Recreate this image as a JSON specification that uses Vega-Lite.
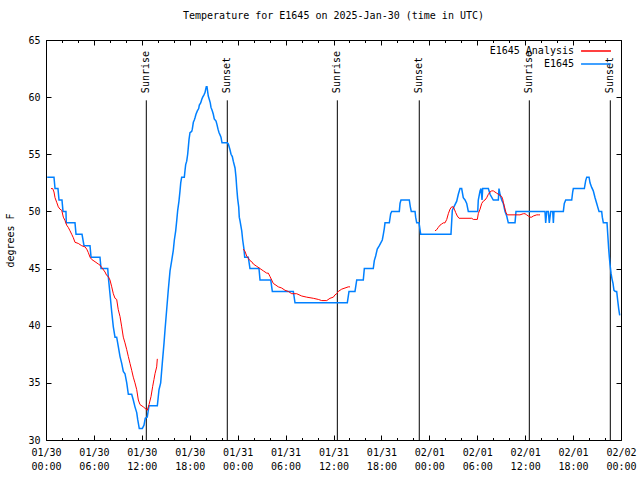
{
  "$schema": "https://vega.github.io/schema/vega-lite/v6.json",
  "width": 575,
  "height": 400,
  "autosize": "none",
  "padding": {"left": 46, "top": 40, "right": 19, "bottom": 40},
  "background": "white",
  "title": {"text": "Temperature for E1645 on 2025-Jan-30 (time in UTC)", "font": "DejaVu Sans Mono", "fontSize": 10, "fontWeight": "normal", "color": "black", "anchor": "middle", "offset": 14},
  "config": {
    "view": {"stroke": "black", "strokeWidth": 1},
    "font": "DejaVu Sans Mono",
    "axis": {"domain": false, "grid": false, "tickColor": "black", "labelColor": "black", "labelFont": "DejaVu Sans Mono", "labelFontSize": 10, "titleFont": "DejaVu Sans Mono", "titleFontSize": 10, "titleFontWeight": "normal", "titleColor": "black", "labelOverlap": false, "labelFlush": false, "labelBound": false}
  },
  "datasets": {
    "obs": [
      {"hour":0.15,"tempF":53},{"hour":1.0,"tempF":53},{"hour":1.13,"tempF":52},{"hour":1.5,"tempF":52},{"hour":1.63,"tempF":51},{"hour":2.0,"tempF":51},{"hour":2.13,"tempF":50},{"hour":2.5,"tempF":50},{"hour":2.54,"tempF":49},{"hour":3.63,"tempF":49},{"hour":3.76,"tempF":48},{"hour":4.51,"tempF":48},{"hour":4.76,"tempF":47},{"hour":5.51,"tempF":47},{"hour":5.64,"tempF":46},{"hour":6.76,"tempF":46},{"hour":6.89,"tempF":45},{"hour":7.73,"tempF":45},
      {"hour":7.80,"tempF":44.3},{"hour":8.01,"tempF":42.8},{"hour":8.23,"tempF":41.2},{"hour":8.43,"tempF":39.9},{"hour":8.64,"tempF":39},{"hour":8.85,"tempF":39},{"hour":9.05,"tempF":38.2},{"hour":9.27,"tempF":37.3},{"hour":9.48,"tempF":36.7},{"hour":9.68,"tempF":36},{"hour":9.89,"tempF":35.8},{"hour":10.11,"tempF":35},{"hour":10.31,"tempF":34},{"hour":10.73,"tempF":34},{"hour":10.93,"tempF":33.5},{"hour":11.14,"tempF":32.9},{"hour":11.36,"tempF":32.4},{"hour":11.48,"tempF":31.8},{"hour":11.68,"tempF":31},{"hour":12.06,"tempF":31},{"hour":12.27,"tempF":31.3},{"hour":12.43,"tempF":31.9},{"hour":12.68,"tempF":32},{"hour":12.90,"tempF":33},{"hour":13.94,"tempF":33},
      {"hour":14.15,"tempF":34.4},{"hour":14.36,"tempF":35},{"hour":14.56,"tempF":36.7},{"hour":14.78,"tempF":38.5},{"hour":14.90,"tempF":39.6},{"hour":15.11,"tempF":41.4},{"hour":15.31,"tempF":43.1},{"hour":15.53,"tempF":44.8},{"hour":15.74,"tempF":45.7},{"hour":15.94,"tempF":46.6},{"hour":16.07,"tempF":47.5},{"hour":16.24,"tempF":48.3},{"hour":16.37,"tempF":49.2},{"hour":16.49,"tempF":50.1},{"hour":16.65,"tempF":50.9},{"hour":16.78,"tempF":51.8},{"hour":16.87,"tempF":52.5},{"hour":16.99,"tempF":53},{"hour":17.32,"tempF":53},{"hour":17.41,"tempF":53.6},{"hour":17.49,"tempF":54.1},{"hour":17.62,"tempF":54.4},{"hour":17.74,"tempF":55},{"hour":17.82,"tempF":55.6},{"hour":17.91,"tempF":56.3},{"hour":18.03,"tempF":56.9},{"hour":18.24,"tempF":57},{"hour":18.32,"tempF":57.2},{"hour":18.45,"tempF":57.8},{"hour":18.57,"tempF":58},{"hour":18.66,"tempF":58.2},{"hour":18.78,"tempF":58.5},{"hour":18.95,"tempF":58.8},{"hour":19.12,"tempF":59},{"hour":19.20,"tempF":59.3},{"hour":19.37,"tempF":59.5},{"hour":19.50,"tempF":59.8},{"hour":19.62,"tempF":60},{"hour":19.78,"tempF":60.2},{"hour":19.91,"tempF":60.4},{"hour":20.00,"tempF":60.7},{"hour":20.07,"tempF":60.9},{"hour":20.16,"tempF":60.9},{"hour":20.20,"tempF":60.7},{"hour":20.32,"tempF":60.1},{"hour":20.45,"tempF":59.8},{"hour":20.57,"tempF":59.5},{"hour":20.66,"tempF":59.1},{"hour":20.82,"tempF":58.8},{"hour":20.95,"tempF":58.5},{"hour":21.07,"tempF":58.1},{"hour":21.29,"tempF":57.9},{"hour":21.41,"tempF":57.6},{"hour":21.54,"tempF":57.2},{"hour":21.66,"tempF":56.9},{"hour":21.79,"tempF":56.7},{"hour":21.91,"tempF":56.5},{"hour":22.04,"tempF":56},{"hour":22.70,"tempF":56},{"hour":22.83,"tempF":55.9},{"hour":23.04,"tempF":55.4},{"hour":23.17,"tempF":55},{"hour":23.33,"tempF":54.8},{"hour":23.45,"tempF":54.4},{"hour":23.67,"tempF":53.8},{"hour":23.79,"tempF":53},{"hour":23.88,"tempF":52.1},{"hour":24.00,"tempF":51.1},{"hour":24.13,"tempF":50.4},{"hour":24.20,"tempF":49.5},{"hour":24.29,"tempF":49.2},{"hour":24.51,"tempF":48.3},{"hour":24.63,"tempF":47.5},{"hour":24.79,"tempF":46.7},{"hour":24.88,"tempF":46},{"hour":25.33,"tempF":46},{"hour":25.54,"tempF":45},{"hour":26.67,"tempF":45},{"hour":26.80,"tempF":44},{"hour":28.14,"tempF":44},{"hour":28.34,"tempF":43},{"hour":30.97,"tempF":43},{"hour":31.18,"tempF":42},{"hour":37.73,"tempF":42},{"hour":37.94,"tempF":43},{"hour":38.69,"tempF":43},{"hour":38.91,"tempF":44},{"hour":39.73,"tempF":44},{"hour":39.86,"tempF":45},{"hour":40.98,"tempF":45},{"hour":41.11,"tempF":45.7},{"hour":41.28,"tempF":46.1},{"hour":41.48,"tempF":46.7},{"hour":41.74,"tempF":47},{"hour":42.11,"tempF":47.5},{"hour":42.24,"tempF":48},{"hour":42.36,"tempF":48.5},{"hour":42.45,"tempF":49},{"hour":42.99,"tempF":49},{"hour":43.16,"tempF":49.8},{"hour":43.29,"tempF":50},{"hour":44.24,"tempF":50},{"hour":44.33,"tempF":50.7},{"hour":44.45,"tempF":51},{"hour":45.49,"tempF":51},{"hour":45.62,"tempF":50.4},{"hour":45.74,"tempF":50},{"hour":46.21,"tempF":50},{"hour":46.29,"tempF":49.5},{"hour":46.42,"tempF":49},{"hour":46.71,"tempF":49},{"hour":46.92,"tempF":48},{"hour":50.71,"tempF":48},{"hour":50.88,"tempF":50.1},{"hour":51.43,"tempF":50.9},{"hour":51.63,"tempF":51.5},{"hour":51.84,"tempF":52},{"hour":52.05,"tempF":52},{"hour":52.25,"tempF":51.2},{"hour":52.47,"tempF":51},{"hour":52.68,"tempF":50.7},{"hour":52.88,"tempF":50},{"hour":54.06,"tempF":50},{"hour":54.13,"tempF":51},{"hour":54.35,"tempF":51.8},{"hour":54.47,"tempF":52},{"hour":54.60,"tempF":51},{"hour":54.68,"tempF":52},{"hour":55.39,"tempF":52},{"hour":55.60,"tempF":51.5},{"hour":56.01,"tempF":51},{"hour":56.64,"tempF":51},{"hour":56.72,"tempF":52},{"hour":56.85,"tempF":51.5},{"hour":57.06,"tempF":51},{"hour":57.26,"tempF":50.7},{"hour":57.48,"tempF":50},{"hour":57.69,"tempF":49.6},{"hour":57.89,"tempF":49},{"hour":58.73,"tempF":49},{"hour":58.85,"tempF":50},{"hour":62.48,"tempF":50},{"hour":62.57,"tempF":49},{"hour":62.70,"tempF":50},{"hour":62.90,"tempF":50},{"hour":63.02,"tempF":49},{"hour":63.20,"tempF":50},{"hour":63.45,"tempF":50},{"hour":63.53,"tempF":49},{"hour":63.61,"tempF":50},{"hour":64.78,"tempF":50},{"hour":64.90,"tempF":50.7},{"hour":65.08,"tempF":51},{"hour":65.83,"tempF":51},{"hour":65.95,"tempF":51.7},{"hour":66.03,"tempF":52},{"hour":67.41,"tempF":52},{"hour":67.58,"tempF":52.7},{"hour":67.71,"tempF":53},{"hour":68.00,"tempF":53},{"hour":68.12,"tempF":52.5},{"hour":68.33,"tempF":52.1},{"hour":68.53,"tempF":51.8},{"hour":68.75,"tempF":51.2},{"hour":68.96,"tempF":50.7},{"hour":69.08,"tempF":50.4},{"hour":69.25,"tempF":50},{"hour":69.58,"tempF":50},{"hour":69.66,"tempF":49.5},{"hour":69.79,"tempF":49},{"hour":70.25,"tempF":49},{"hour":70.34,"tempF":48},{"hour":70.46,"tempF":46.7},{"hour":70.54,"tempF":46},{"hour":70.62,"tempF":45.4},{"hour":70.75,"tempF":44.6},{"hour":70.87,"tempF":44.1},{"hour":71.00,"tempF":43.7},{"hour":71.12,"tempF":43.1},{"hour":71.29,"tempF":43},{"hour":71.46,"tempF":43},{"hour":71.59,"tempF":42.2},{"hour":71.71,"tempF":41.5},{"hour":71.84,"tempF":40.9}
    ],
    "ana": [
      {"seg":1,"hour":0.63,"tempF":52.0},{"seg":1,"hour":0.84,"tempF":52.0},{"seg":1,"hour":1.00,"tempF":51.7},{"seg":1,"hour":1.13,"tempF":51.2},{"seg":1,"hour":1.34,"tempF":50.8},{"seg":1,"hour":1.54,"tempF":50.4},{"seg":1,"hour":1.75,"tempF":50.2},{"seg":1,"hour":1.97,"tempF":50.1},{"seg":1,"hour":2.17,"tempF":49.5},{"seg":1,"hour":2.38,"tempF":49.2},{"seg":1,"hour":2.59,"tempF":48.8},{"seg":1,"hour":2.79,"tempF":48.6},{"seg":1,"hour":3.01,"tempF":48.3},{"seg":1,"hour":3.22,"tempF":48.0},{"seg":1,"hour":3.42,"tempF":47.7},{"seg":1,"hour":3.63,"tempF":47.3},{"seg":1,"hour":4.04,"tempF":47.2},{"seg":1,"hour":4.47,"tempF":47.0},{"seg":1,"hour":4.88,"tempF":46.9},{"seg":1,"hour":5.10,"tempF":46.7},{"seg":1,"hour":5.30,"tempF":46.4},{"seg":1,"hour":5.51,"tempF":46.0},{"seg":1,"hour":5.72,"tempF":45.8},{"seg":1,"hour":6.14,"tempF":45.6},{"seg":1,"hour":6.55,"tempF":45.4},{"seg":1,"hour":6.76,"tempF":45.3},{"seg":1,"hour":6.97,"tempF":45.1},{"seg":1,"hour":7.39,"tempF":44.7},{"seg":1,"hour":7.60,"tempF":44.4},{"seg":1,"hour":7.80,"tempF":44.3},{"seg":1,"hour":8.01,"tempF":44.0},{"seg":1,"hour":8.23,"tempF":43.4},{"seg":1,"hour":8.43,"tempF":42.8},{"seg":1,"hour":8.64,"tempF":42.4},{"seg":1,"hour":8.85,"tempF":42.3},{"seg":1,"hour":9.05,"tempF":41.4},{"seg":1,"hour":9.27,"tempF":40.8},{"seg":1,"hour":9.48,"tempF":39.9},{"seg":1,"hour":9.68,"tempF":39.0},{"seg":1,"hour":9.89,"tempF":38.5},{"seg":1,"hour":10.11,"tempF":37.9},{"seg":1,"hour":10.31,"tempF":37.3},{"seg":1,"hour":10.52,"tempF":36.7},{"seg":1,"hour":10.73,"tempF":36.1},{"seg":1,"hour":10.93,"tempF":35.5},{"seg":1,"hour":11.14,"tempF":35.0},{"seg":1,"hour":11.36,"tempF":34.4},{"seg":1,"hour":11.56,"tempF":33.5},{"seg":1,"hour":11.77,"tempF":33.1},{"seg":1,"hour":12.18,"tempF":32.9},{"seg":1,"hour":12.52,"tempF":32.7},{"seg":1,"hour":12.68,"tempF":32.6},{"seg":1,"hour":12.90,"tempF":33.1},{"seg":1,"hour":13.15,"tempF":33.8},{"seg":1,"hour":13.36,"tempF":34.7},{"seg":1,"hour":13.52,"tempF":35.3},{"seg":1,"hour":13.65,"tempF":35.8},{"seg":1,"hour":13.86,"tempF":36.4},{"seg":1,"hour":13.94,"tempF":37.1},
      {"seg":2,"hour":24.71,"tempF":46.7},{"seg":2,"hour":24.92,"tempF":46.5},{"seg":2,"hour":25.13,"tempF":46.1},{"seg":2,"hour":25.33,"tempF":45.9},{"seg":2,"hour":25.54,"tempF":45.7},{"seg":2,"hour":25.76,"tempF":45.6},{"seg":2,"hour":25.96,"tempF":45.4},{"seg":2,"hour":26.38,"tempF":45.2},{"seg":2,"hour":26.80,"tempF":45.0},{"seg":2,"hour":27.21,"tempF":44.8},{"seg":2,"hour":27.64,"tempF":44.6},{"seg":2,"hour":27.84,"tempF":44.6},{"seg":2,"hour":28.05,"tempF":44.3},{"seg":2,"hour":28.26,"tempF":44.0},{"seg":2,"hour":28.46,"tempF":43.7},{"seg":2,"hour":28.68,"tempF":43.6},{"seg":2,"hour":29.09,"tempF":43.4},{"seg":2,"hour":29.51,"tempF":43.3},{"seg":2,"hour":29.93,"tempF":43.1},{"seg":2,"hour":30.34,"tempF":43.0},{"seg":2,"hour":30.77,"tempF":42.8},{"seg":2,"hour":31.39,"tempF":42.8},{"seg":2,"hour":32.02,"tempF":42.6},{"seg":2,"hour":32.64,"tempF":42.5},{"seg":2,"hour":33.47,"tempF":42.4},{"seg":2,"hour":34.10,"tempF":42.3},{"seg":2,"hour":34.52,"tempF":42.2},{"seg":2,"hour":34.94,"tempF":42.2},{"seg":2,"hour":35.15,"tempF":42.2},{"seg":2,"hour":35.56,"tempF":42.4},{"seg":2,"hour":35.98,"tempF":42.5},{"seg":2,"hour":36.19,"tempF":42.7},{"seg":2,"hour":36.40,"tempF":42.8},{"seg":2,"hour":36.60,"tempF":43.0},{"seg":2,"hour":37.03,"tempF":43.2},{"seg":2,"hour":37.44,"tempF":43.3},{"seg":2,"hour":37.85,"tempF":43.4},{"seg":2,"hour":38.07,"tempF":43.4},
      {"seg":3,"hour":48.71,"tempF":48.3},{"seg":3,"hour":48.92,"tempF":48.4},{"seg":3,"hour":49.12,"tempF":48.6},{"seg":3,"hour":49.34,"tempF":48.8},{"seg":3,"hour":49.55,"tempF":48.9},{"seg":3,"hour":49.75,"tempF":49.0},{"seg":3,"hour":49.96,"tempF":49.0},{"seg":3,"hour":50.18,"tempF":49.3},{"seg":3,"hour":50.38,"tempF":49.8},{"seg":3,"hour":50.59,"tempF":50.2},{"seg":3,"hour":50.80,"tempF":50.4},{"seg":3,"hour":51.00,"tempF":50.4},{"seg":3,"hour":51.13,"tempF":50.2},{"seg":3,"hour":51.30,"tempF":49.9},{"seg":3,"hour":51.50,"tempF":49.6},{"seg":3,"hour":51.72,"tempF":49.4},{"seg":3,"hour":53.31,"tempF":49.4},{"seg":3,"hour":53.51,"tempF":49.3},{"seg":3,"hour":54.01,"tempF":49.3},{"seg":3,"hour":54.13,"tempF":49.8},{"seg":3,"hour":54.35,"tempF":50.2},{"seg":3,"hour":54.56,"tempF":50.7},{"seg":3,"hour":54.76,"tempF":50.9},{"seg":3,"hour":54.97,"tempF":51.0},{"seg":3,"hour":55.18,"tempF":51.2},{"seg":3,"hour":55.39,"tempF":51.5},{"seg":3,"hour":55.60,"tempF":51.7},{"seg":3,"hour":55.81,"tempF":51.8},{"seg":3,"hour":56.01,"tempF":51.8},{"seg":3,"hour":56.22,"tempF":51.7},{"seg":3,"hour":56.43,"tempF":51.6},{"seg":3,"hour":56.64,"tempF":51.5},{"seg":3,"hour":56.85,"tempF":51.4},{"seg":3,"hour":57.06,"tempF":51.3},{"seg":3,"hour":57.18,"tempF":51.1},{"seg":3,"hour":57.26,"tempF":50.8},{"seg":3,"hour":57.38,"tempF":50.5},{"seg":3,"hour":57.48,"tempF":50.2},{"seg":3,"hour":57.60,"tempF":49.9},{"seg":3,"hour":57.76,"tempF":49.7},{"seg":3,"hour":58.73,"tempF":49.7},{"seg":3,"hour":59.35,"tempF":49.7},{"seg":3,"hour":59.77,"tempF":49.8},{"seg":3,"hour":59.98,"tempF":49.8},{"seg":3,"hour":60.19,"tempF":49.7},{"seg":3,"hour":60.39,"tempF":49.6},{"seg":3,"hour":60.61,"tempF":49.5},{"seg":3,"hour":60.82,"tempF":49.5},{"seg":3,"hour":61.02,"tempF":49.6},{"seg":3,"hour":61.45,"tempF":49.7},{"seg":3,"hour":61.65,"tempF":49.7},{"seg":3,"hour":61.86,"tempF":49.7}
    ],
    "sun": [
      {"hour":12.56,"event":"Sunrise"},{"hour":22.70,"event":"Sunset"},{"hour":36.48,"event":"Sunrise"},{"hour":46.74,"event":"Sunset"},{"hour":60.52,"event":"Sunrise"},{"hour":70.66,"event":"Sunset"}
    ]
  },
  "resolve": {"axis": {"x": "independent", "y": "independent"}},
  "layer": [
    {
      "data": {"name": "sun"},
      "mark": {"type": "rule", "color": "black", "strokeWidth": 1},
      "encoding": {
        "x": {"field": "hour", "type": "quantitative", "scale": {"domain": [0, 72], "nice": false, "zero": false},
              "axis": {"orient": "bottom", "values": [0,2,4,6,8,10,12,14,16,18,20,22,24,26,28,30,32,34,36,38,40,42,44,46,48,50,52,54,56,58,60,62,64,66,68,70,72], "tickSize": -2.5, "labels": false, "title": null}},
        "y": {"datum": 30, "type": "quantitative", "scale": {"domain": [30, 65], "nice": false, "zero": false}, "axis": null},
        "y2": {"datum": 59.72}
      }
    },
    {
      "data": {"name": "sun"},
      "mark": {"type": "text", "angle": 270, "align": "left", "baseline": "middle", "font": "DejaVu Sans Mono", "fontSize": 10, "color": "black"},
      "encoding": {
        "x": {"field": "hour", "type": "quantitative",
              "axis": {"orient": "top", "values": [0,2,4,6,8,10,12,14,16,18,20,22,24,26,28,30,32,34,36,38,40,42,44,46,48,50,52,54,56,58,60,62,64,66,68,70,72], "tickSize": -2.5, "labels": false, "title": null}},
        "y": {"datum": 60.35, "type": "quantitative", "axis": null},
        "text": {"field": "event"}
      }
    },
    {
      "data": {"name": "obs"},
      "mark": {"type": "line", "strokeWidth": 1.5},
      "encoding": {
        "x": {"field": "hour", "type": "quantitative",
              "axis": {"orient": "bottom", "values": [0,6,12,18,24,30,36,42,48,54,60,66,72], "tickSize": -5, "labelPadding": 12, "labelBaseline": "top", "labelLineHeight": 14,
                       "labelExpr": "[['01/30','01/31','02/01','02/02'][floor(datum.value/24)], ['00:00','06:00','12:00','18:00'][(datum.value % 24)/6]]", "title": null}},
        "y": {"field": "tempF", "type": "quantitative",
              "axis": {"orient": "left", "values": [30,35,40,45,50,55,60,65], "tickSize": -5, "labelPadding": 11, "title": "degrees F", "titlePadding": 12}},
        "color": {"datum": "E1645", "type": "nominal",
                  "scale": {"domain": ["E1645 Analysis", "E1645"], "range": ["#ff0000", "#0080ff"]},
                  "legend": {"orient": "none", "legendX": 542.5, "legendY": 3.5, "title": null, "symbolType": "M-2.3,0H2.3", "symbolSize": 169, "symbolStrokeWidth": 1.5, "labelAlign": "right", "labelOffset": -29.5, "labelFont": "DejaVu Sans Mono", "labelFontSize": 10, "labelColor": "black", "rowPadding": 0, "padding": 0}}
      }
    },
    {
      "data": {"name": "ana"},
      "mark": {"type": "line", "strokeWidth": 1},
      "encoding": {
        "x": {"field": "hour", "type": "quantitative",
              "axis": {"orient": "top", "values": [0,6,12,18,24,30,36,42,48,54,60,66,72], "tickSize": -5, "labels": false, "title": null}},
        "y": {"field": "tempF", "type": "quantitative",
              "axis": {"orient": "right", "values": [30,35,40,45,50,55,60,65], "tickSize": -5, "labels": false, "title": null}},
        "detail": {"field": "seg", "type": "nominal"},
        "color": {"datum": "E1645 Analysis", "type": "nominal"}
      }
    }
  ]
}
